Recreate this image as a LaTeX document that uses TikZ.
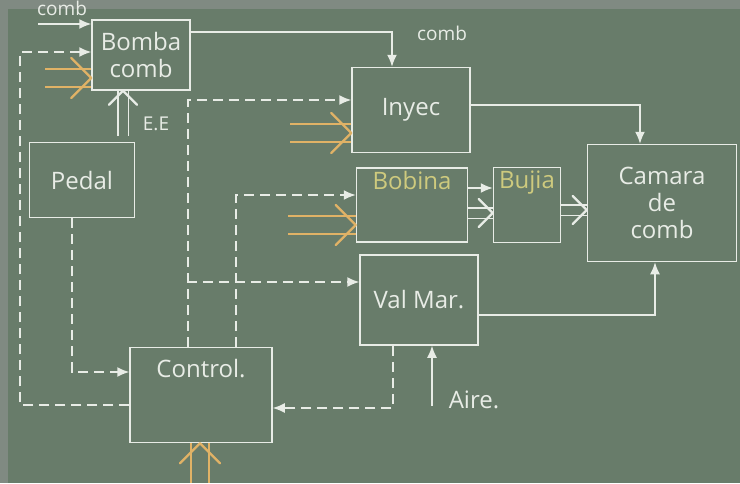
\documentclass[tikz,border=0pt]{standalone}
\usepackage{fontspec}
\setmainfont{Open Sans}
\usetikzlibrary{arrows.meta,positioning,calc,decorations.markings}

\definecolor{board}{RGB}{104,124,106}
\definecolor{boardedge}{RGB}{128,138,130}
\definecolor{chalk}{RGB}{232,236,230}
\definecolor{chalkorange}{RGB}{224,178,102}
\definecolor{chalkyellow}{RGB}{206,202,126}

\begin{document}
\begin{tikzpicture}[
  x=1pt, y=-1pt,
  box/.style={draw=chalk, line width=1.5pt, inner sep=0pt, align=center,
    text=chalk, font=\fontsize{24}{27}\selectfont},
  lbl/.style={text=chalk, font=\fontsize{24}{27}\selectfont, inner sep=0pt},
  note/.style={text=chalk, font=\fontsize{19}{22}\selectfont, inner sep=0pt},
  arrow/.style={draw=chalk, line width=1.5pt, -{Latex[length=12pt,width=10pt]}},
  signal/.style={arrow, dash pattern=on 10pt off 6pt},
  chevron/.style n args={3}{double=board, double distance=#2, line width=1.6pt, draw=#1,
    decoration={markings, mark=at position 1 with {
      \draw[#1, double=#1, double distance=0pt, line width=1.1pt, line cap=round, line join=round]
        (-#3,#3) -- (0pt,0pt) -- (-#3,-#3);}},
    postaction=decorate},
  power/.style={chevron={chalkorange}{16pt}{20pt}},
  energy/.style={chevron={chalk}{9pt}{14pt}}
]
\useasboundingbox (0,0) rectangle (740,483);
\fill[board] (0,0) rectangle (740,483);
\fill[boardedge] (0,0) rectangle (740,9);
\fill[boardedge] (0,0) rectangle (8,483);

% blocks
\node[box, minimum width=98pt, minimum height=70pt] (bomba) at (141,55) {Bomba\\comb};
\node[box, minimum width=118pt, minimum height=85pt] (inyec) at (411,110) {Inyec};
\node[box, minimum width=111pt, minimum height=74pt,
  label={[lbl, text=chalkyellow, anchor=north, yshift=-4pt]north:Bobina}] (bobina) at (412,205) {};
\node[box, minimum width=67pt, minimum height=75pt,
  label={[lbl, text=chalkyellow, anchor=north, yshift=-4pt]north:Bujia}] (bujia) at (527,205) {};
\node[box, minimum width=149pt, minimum height=117pt] (camara) at (662,203) {Camara\\de\\comb};
\node[box, minimum width=118pt, minimum height=90pt] (valmar) at (419,300) {Val Mar.};
\node[box, minimum width=105pt, minimum height=75pt] (pedal) at (82,180) {Pedal};
\node[box, minimum width=142pt, minimum height=95pt,
  label={[lbl, anchor=north, yshift=-12pt]north:Control.}] (control) at (201,395) {};

% labels
\node[note] (comblbl) at (62,8) {comb};
\node[note] (eelbl) at (156,124) {E.E};
\node[note] (combtop) at (442,33) {comb};
\node[lbl] (airelbl) at (474,400) {Aire.};

% free ends
\coordinate (combin) at (38,24);
\coordinate (eein) at (123,136);
\coordinate (pwbomba) at (45,78);
\coordinate (pwinyec) at (290,133);
\coordinate (pwbobina) at (288,225);
\coordinate (pwcontrol) at (200,483);
\coordinate (airein) at (432,406);
\coordinate (busleft) at (20,0);

% fuel, air and spark
\draw[arrow] (combin) -- (combin -| bomba.west);
\draw[arrow] ([yshift=23pt]bomba.east) -| ([xshift=-19pt]inyec.north);
\draw[arrow] ([yshift=5pt]inyec.east) -| ([xshift=-22pt]camara.north);
\draw[arrow] ([yshift=-15pt]valmar.east) -| ([xshift=-7pt]camara.south);
\draw[arrow] (airein) -- (airein |- valmar.south);
\draw[arrow] ([yshift=17pt]bobina.east) -- ([yshift=17pt]bujia.west);
\draw[energy] ([yshift=-8pt]bobina.east) -- ([yshift=-8pt]bujia.west);
\draw[energy] ([yshift=-5pt]bujia.east) -- ([yshift=-5pt]bujia.east -| camara.west);

% power inputs
\draw[power] (pwbomba) -- (pwbomba -| bomba.west);
\draw[power] (pwinyec) -- (pwinyec -| inyec.west);
\draw[power] (pwbobina) -- (pwbobina -| bobina.west);
\draw[power] (pwcontrol) -- (pwcontrol |- control.south);
\draw[energy] (eein) -- (eein |- bomba.south);

% control signals
\draw[signal] ([xshift=-10pt]pedal.south) |- ([yshift=23pt]control.west);
\draw[signal] ([yshift=-10pt]control.west) -- ([yshift=-10pt]control.west -| busleft) |- ([yshift=3pt]bomba.west);
\draw[signal] ([xshift=-13pt]control.north) |- ([yshift=10pt]inyec.west);
\draw[signal] ([xshift=-13pt]control.north) |- ([yshift=18pt]valmar.west);
\draw[signal] ([xshift=35pt]control.north) |- ([yshift=10pt]bobina.west);
\draw[signal] ([xshift=-26pt]valmar.south) |- ([yshift=-13pt]control.east);
\end{tikzpicture}
\end{document}
